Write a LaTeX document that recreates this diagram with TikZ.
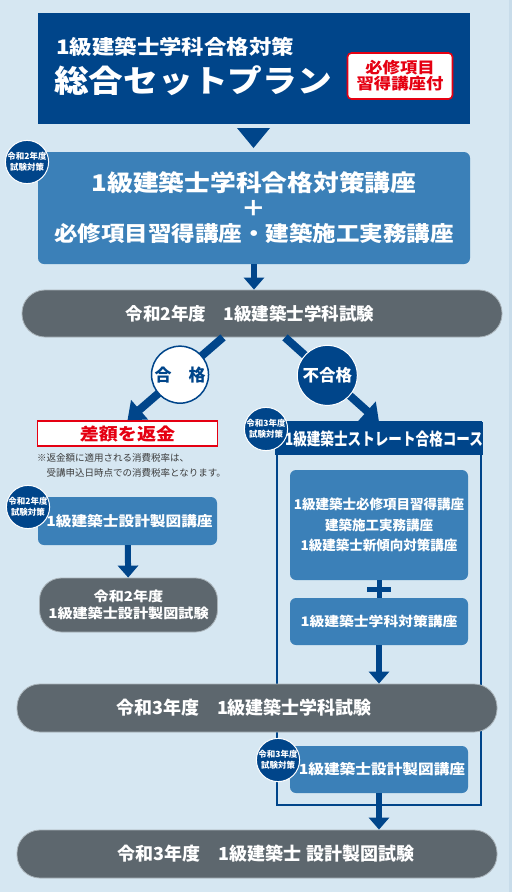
\documentclass[tikz,border=0pt]{standalone}
\usepackage{fontspec}
\usetikzlibrary{arrows.meta,calc}

\newfontfamily\jp{Noto Sans CJK JP}
\newfontfamily\jpancho{Noto Sans CJK JP}[FakeStretch=1.12]
\newfontfamily\jpestrecho{Noto Sans CJK JP}[FakeStretch=0.8]
\newcommand{\tam}[2]{\fontsize{#1}{#2}\selectfont}

\definecolor{fondo}{HTML}{D6E7F2}
\definecolor{borde}{HTML}{C8DCEA}
\definecolor{azulosc}{HTML}{00458A}
\definecolor{azulmed}{HTML}{3B80B8}
\definecolor{gris}{HTML}{5D676E}
\definecolor{grisclaro}{HTML}{A9B3B9}
\definecolor{rojo}{HTML}{E50012}
\definecolor{textogris}{HTML}{3C3C3C}

\begin{document}
\begin{tikzpicture}[x=1pt,y=-1pt,
    caja/.style={rectangle, fill=azulmed, rounded corners=6pt, text=white,
        inner sep=0pt, align=center},
    examen/.style={rectangle, fill=gris, draw=grisclaro, line width=0.8pt,
        rounded corners=23pt, text=white, inner sep=0pt, align=center},
    insignia/.style={circle, fill=azulosc, draw=white, line width=1pt,
        minimum size=41pt, inner sep=0pt, text=white, align=center,
        font=\jp\bfseries\tam{8.5}{10.5}},
    flecha/.style={azulosc, line width=6pt, -{Triangle[width=20pt,length=12pt]}},
    diagonal/.style={azulosc, line width=8pt, -{Triangle[width=25pt,length=16pt]}},
    mas/.style={azulosc, line width=5pt},
    ]
    % Paso 1: fondo y margenes
    \useasboundingbox (0,0) rectangle (512,892);
    \fill[fondo] (0,0) rectangle (512,892);
    \fill[borde] (509,0) rectangle (512,892);

    % Paso 2: cabecera del plan
    \node[fill=azulosc, minimum width=432pt, minimum height=111pt, inner sep=0pt]
        (plan) at (254,68.5) {};
    \node[anchor=west, inner sep=0pt, text=white, font=\jpancho\bfseries\tam{20}{24}]
        (plantit) at (56,47) {1級建築士学科合格対策};
    \node[anchor=west, inner sep=0pt, text=white, font=\jpancho\bfseries\tam{31}{36}]
        (plannom) at (54,81) {総合セットプラン};
    \node[draw=rojo, line width=1.6pt, fill=white, rounded corners=4pt,
        minimum width=105pt, minimum height=46pt, inner sep=0pt, align=center,
        text=rojo, font=\jpancho\bfseries\tam{15.5}{16}]
        (extra) at (400,76) {必修項目\\習得講座付};
    \fill[azulosc] (237,128) -- (270,128) -- (253.5,148) -- cycle;

    % Paso 3: curso principal
    \node[caja, minimum width=432pt, minimum height=112pt,
        font=\jpancho\bfseries\tam{22}{25}]
        (curso) at (254,208) {{\tam{23}{25}1級建築士学科合格対策講座}\\＋\\
        {\tam{21}{25}必修項目習得講座・建築施工実務講座}};
    \node[insignia] (ins1) at (27,162) {令和2年度\\試験対策};

    % Paso 4: primer examen
    \node[examen, minimum width=480pt, minimum height=47pt,
        font=\jp\bfseries\tam{17.5}{20}]
        (examen1) at (262,313.5) {令和2年度　1級建築士学科試験\hspace{24pt}};
    \draw[flecha] (curso.south) -- (curso.south |- examen1.north);

    % Paso 5: rama izquierda (aprobado)
    \node[draw=rojo, line width=1.6pt, fill=white, minimum width=180pt,
        minimum height=25pt, inner sep=0pt, text=rojo,
        font=\jpancho\bfseries\tam{17}{20}]
        (reembolso) at (127.5,433.5) {差額を返金};
    \node[anchor=north west, inner sep=0pt, align=left, text=textogris,
        font=\jp\tam{9.5}{15}]
        (nota) at (37,453) {※返金額に適用される消費税率は、\\　受講申込日時点での消費税率となります。};
    \node[caja, minimum width=179pt, minimum height=48pt,
        font=\jpancho\bfseries\tam{14}{17}]
        (diseno1) at (127.5,521) {\hspace*{4pt}1級建築士設計製図講座};
    \node[insignia] (ins2) at (28,507) {令和2年度\\試験対策};
    \node[examen, minimum width=178pt, minimum height=54pt, rounded corners=22pt,
        font=\jpancho\bfseries\tam{13.5}{17}]
        (examen2) at (128.5,605) {令和2年度\\1級建築士設計製図試験};
    \draw[flecha] (diseno1) -- (examen2);

    % Paso 6: rama derecha (suspenso)
    \draw[azulosc, line width=1.5pt] (277,422) rectangle (481,805);
    \node[fill=azulosc, minimum width=205pt, minimum height=33pt, inner sep=0pt,
        text=white, font=\jpestrecho\bfseries\tam{17}{20}]
        (cabecera) at (379,438.5) {\hspace*{10pt}1級建築士ストレート合格コース};
    \node[insignia, minimum size=42pt] (ins3) at (266,429) {令和3年度\\試験対策};
    \node[caja, minimum width=178pt, minimum height=110pt,
        font=\jp\bfseries\tam{13.5}{20.5}]
        (materias) at (379,525) {1級建築士必修項目習得講座\\建築施工実務講座\\1級建築士新傾向対策講座};
    \node[caja, minimum width=178pt, minimum height=47pt,
        font=\jpancho\bfseries\tam{13.2}{16}]
        (academico) at (379,621.5) {1級建築士学科対策講座};
    \draw[mas] (materias.south) -- (academico.north);
    \draw[mas] ($(materias.south)!0.5!(academico.north)+(-12,0)$) -- ++(24,0);

    % Paso 7: ramas diagonales con sus circulos
    \coordinate (salidaA) at ($(examen1.south)+(-39,0)$);
    \coordinate (salidaB) at ($(examen1.south)+(23,0)$);
    \draw[diagonal] (salidaA) -- node[pos=0.45, circle, fill=white, draw=azulosc,
        line width=1.5pt, minimum size=57pt, inner sep=0pt, text=azulosc,
        font=\jp\bfseries\tam{17}{20}] (aprobado) {合　格} (reembolso.north);
    \draw[diagonal] (salidaB) -- node[pos=0.45, circle, fill=azulosc, draw=white,
        line width=1pt, minimum size=60pt, inner sep=0pt, text=white,
        font=\jp\bfseries\tam{16.5}{20}] (suspenso) {不合格} (cabecera.north);

    % Paso 8: examenes del segundo ano
    \node[examen, minimum width=480pt, minimum height=48pt,
        font=\jp\bfseries\tam{18}{20}]
        (examen3) at (257,708) {令和3年度　1級建築士学科試験\hspace{26pt}};
    \draw[flecha] (academico.south) -- (academico.south |- examen3.north);
    \node[caja, minimum width=178pt, minimum height=47pt,
        font=\jpancho\bfseries\tam{14}{17}]
        (diseno2) at (379,769.5) {\hspace*{6pt}1級建築士設計製図講座};
    \node[insignia, minimum size=42pt] (ins4) at (278,760) {令和3年度\\試験対策};
    \node[examen, minimum width=480pt, minimum height=48pt,
        font=\jp\bfseries\tam{18}{20}]
        (examen4) at (257,854) {\hspace*{18pt}令和3年度　1級建築士 設計製図試験};
    \draw[flecha] (diseno2.south) -- (diseno2.south |- examen4.north);
\end{tikzpicture}
\end{document}
